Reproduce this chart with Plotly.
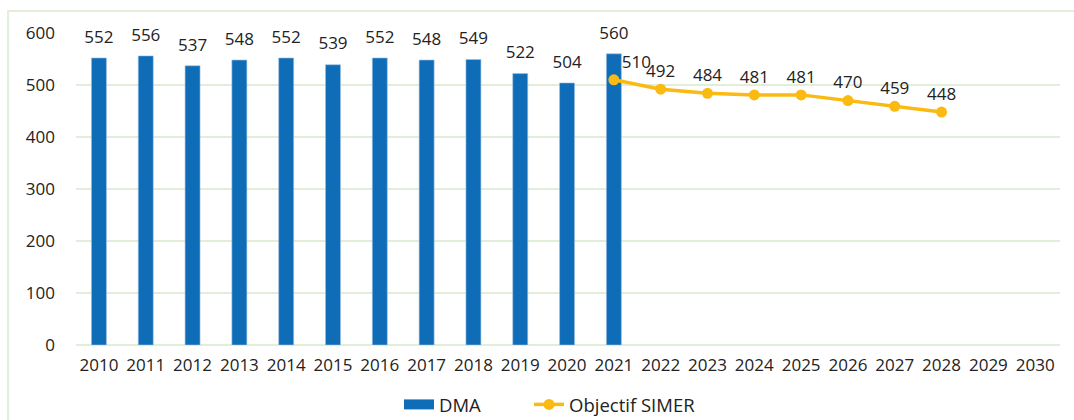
import plotly.graph_objects as go

years = [str(y) for y in range(2010, 2031)]
dma_years = [str(y) for y in range(2010, 2022)]
dma_values = [552, 556, 537, 548, 552, 539, 552, 548, 549, 522, 504, 560]
simer_years = [str(y) for y in range(2021, 2029)]
simer_values = [510, 492, 484, 481, 481, 470, 459, 448]

FONT = "Open Sans"
GRID = "#E3EED8"
BLUE = "#0F6DB8"
GOLD = "#FBBA12"
TXT = "#222222"

fig = go.Figure()
fig.add_trace(go.Bar(
    x=dma_years, y=dma_values, name="DMA",
    marker=dict(color=BLUE, line=dict(color="#9DBFE3", width=0.6)),
    width=0.32, showlegend=False, hoverinfo="x+y",
))
# bar value labels
fig.add_trace(go.Scatter(
    x=dma_years, y=dma_values, mode="markers+text", showlegend=False,
    marker=dict(size=16, opacity=0), hoverinfo="skip",
    text=[str(v) for v in dma_values], textposition="top center",
    textfont=dict(family=FONT, size=17, color=TXT), cliponaxis=False,
))
# legend proxy for DMA (wide rectangle)
fig.add_trace(go.Scatter(
    x=[None], y=[None], mode="lines", name="DMA" + "\u00a0" * 9,
    line=dict(color=BLUE, width=10),
))
positions = ["top right"] + ["top center"] * (len(simer_values) - 1)
fig.add_trace(go.Scatter(
    x=simer_years, y=simer_values, name="Objectif SIMER",
    mode="lines+markers+text",
    line=dict(color=GOLD, width=3.5),
    marker=dict(color=GOLD, size=11),
    text=[str(v) for v in simer_values], textposition=positions,
    textfont=dict(family=FONT, size=17, color=TXT),
    cliponaxis=False,
))

fig.update_layout(
    width=1074, height=420,
    margin=dict(l=76, r=14, t=33, b=75, autoexpand=False),
    paper_bgcolor="white", plot_bgcolor="white",
    font=dict(family=FONT, size=17, color=TXT),
    showlegend=True,
    legend=dict(orientation="h", xref="container", yref="container",
                x=399 / 1074, y=0.036, xanchor="left", yanchor="middle",
                font=dict(family=FONT, size=18.5, color=TXT),
                traceorder="normal"),
    xaxis=dict(categoryorder="array", categoryarray=years, type="category",
               range=[-0.49, 20.53], showgrid=False, showline=False, ticks="",
               automargin=False,
               tickfont=dict(family=FONT, size=17, color=TXT), ticklabelstandoff=8),
    yaxis=dict(range=[0, 600], dtick=100, showgrid=True, gridcolor=GRID, gridwidth=2,
               zeroline=True, zerolinecolor=GRID, zerolinewidth=2, showline=False,
               automargin=False,
               tickfont=dict(family=FONT, size=17, color=TXT), ticklabelstandoff=20),
    shapes=[dict(type="rect", xref="paper", yref="paper", x0=-0.069, x1=1.5, y0=-0.3, y1=1.0705,
                 line=dict(color=GRID, width=2), fillcolor="rgba(0,0,0,0)", layer="below")],
)

fig.write_html("out.html", config={"displayModeBar": False},
               post_script="document.body.style.margin='0';document.body.style.overflow='hidden';")
